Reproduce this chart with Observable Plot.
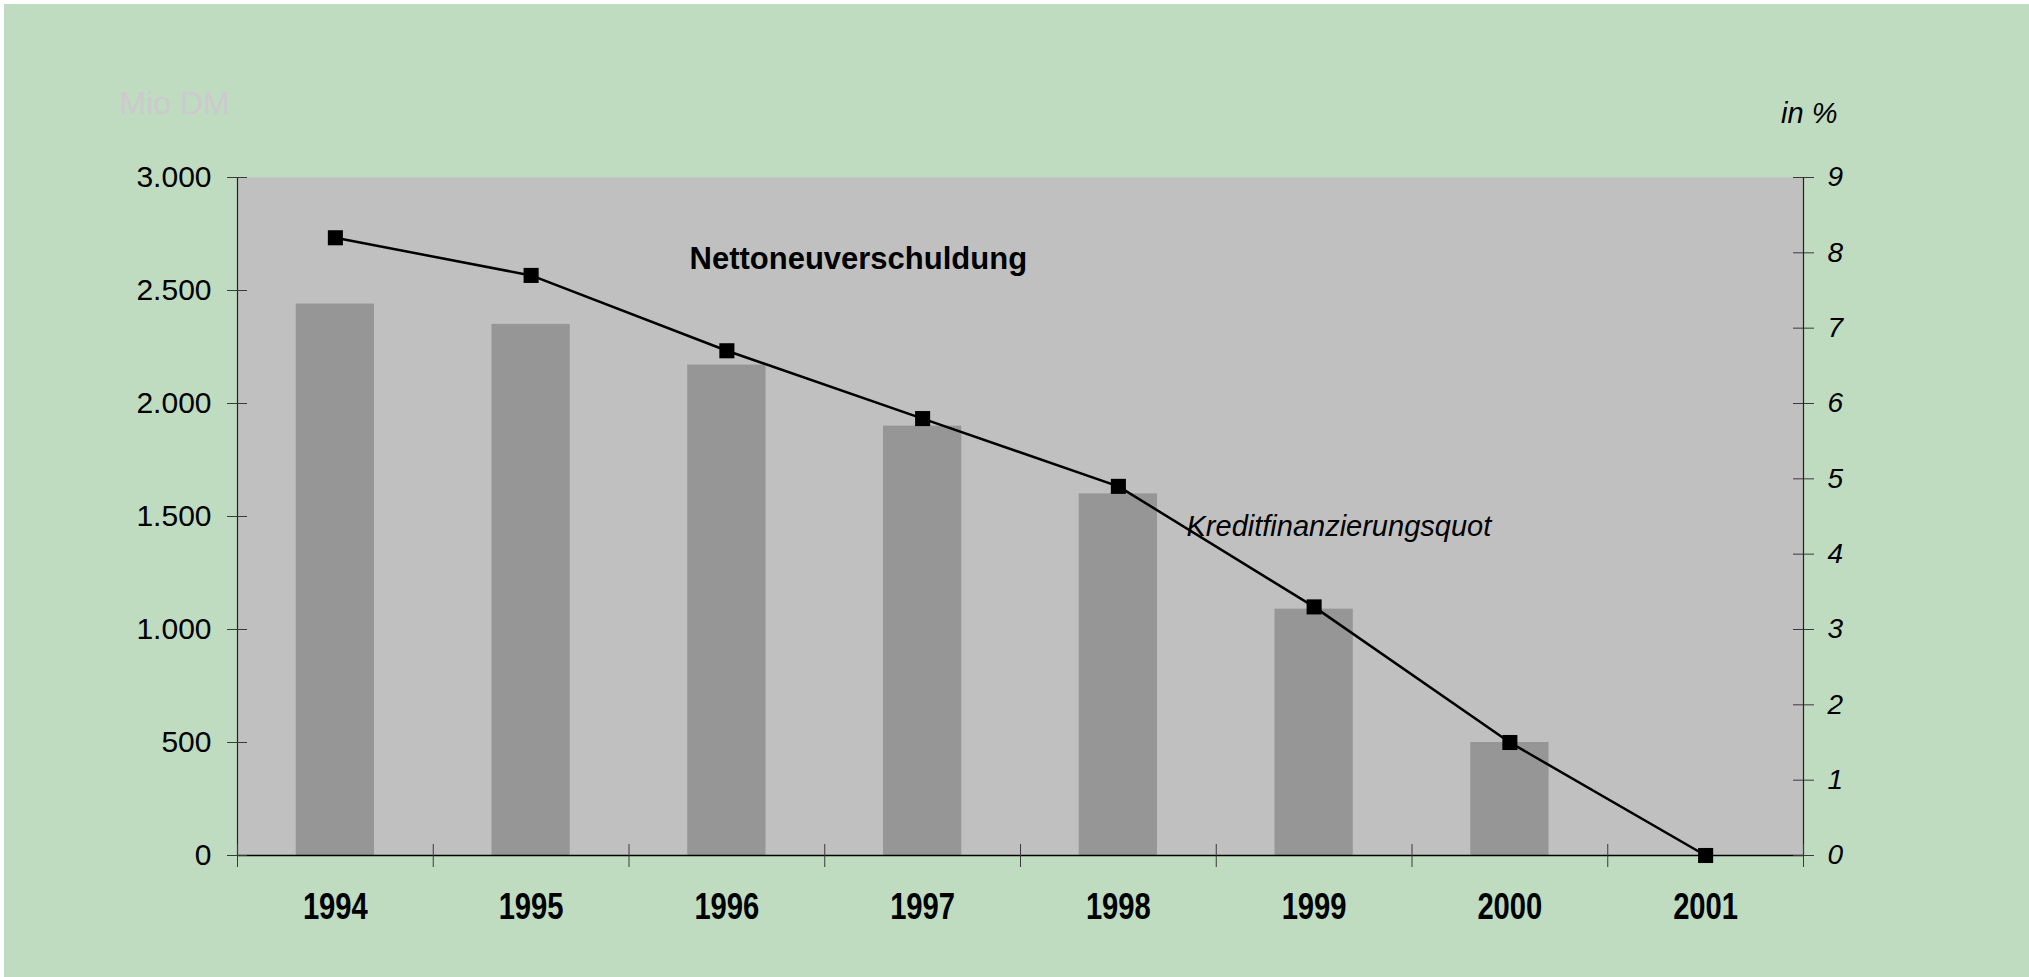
<!DOCTYPE html>
<html>
<head>
<meta charset="utf-8">
<script src="https://cdn.jsdelivr.net/npm/d3@7"></script>
<script src="https://cdn.jsdelivr.net/npm/@observablehq/plot@0.6"></script>
<style>
  html, body { margin: 0; padding: 0; background: #ffffff; }
  #wrap { position: absolute; left: 4px; top: 4px; width: 2025px; height: 973px; background: #bfdcc1; }
  svg { display: block; }
</style>
</head>
<body>
<div id="wrap"></div>
<script>
// ---- data ----
const years = [1994, 1995, 1996, 1997, 1998, 1999, 2000, 2001];
const netDebt = [2440, 2350, 2170, 1900, 1600, 1090, 500, 0];          // Mio DM (left axis)
const creditRatio = [8.2, 7.7, 6.7, 5.8, 4.9, 3.3, 1.5, 0];             // in % (right axis)
const leftTicks = [0, 500, 1000, 1500, 2000, 2500, 3000];
const rightTicks = [0, 1, 2, 3, 4, 5, 6, 7, 8, 9];
const leftUnit = "Mio DM";
const rightUnit = "in %";
const barLabel = "Nettoneuverschuldung";
const lineLabel = "Kreditfinanzierungsquot";

// ---- layout ----
const W = 2025, H = 973;
const mL = 233, mR = 226, mT = 173, mB = 122;
const plotW = W - mL - mR, plotH = H - mT - mB;
const yMax = leftTicks[leftTicks.length - 1];
const k = yMax / rightTicks[rightTicks.length - 1];
const xDomain = [years[0] - 0.5, years[years.length - 1] + 0.5];
const boundaries = years.map(y => y - 0.5).concat([years[years.length - 1] + 0.5]);

const bars = years.map((y, i) => ({year: y, value: netDebt[i]}));
const ratio = years.map((y, i) => ({year: y, value: creditRatio[i] * k}));
const deFmt = d => d3.format(",")(d).replace(/,/g, ".");

const tickStroke = "#3a3a3a";
const lineAnnotDy = 358;

const chart = Plot.plot({
  width: W, height: H,
  marginLeft: mL, marginRight: mR, marginTop: mT, marginBottom: mB,
  style: {background: "transparent", fontFamily: "'Liberation Sans', Arial, sans-serif", color: "black", overflow: "visible"},
  x: {type: "linear", domain: xDomain, axis: null},
  y: {domain: [0, yMax], axis: null},
  marks: [
    Plot.frame({fill: "#c0c0c0", stroke: null}),
    Plot.rectY(bars, {x1: d => d.year - 0.2, x2: d => d.year + 0.2, y: "value", fill: "#969696"}),
    // axis lines
    Plot.ruleX(xDomain, {stroke: "#222", strokeWidth: 1.2}),
    Plot.ruleY([0], {stroke: "black", strokeWidth: 1.6}),
    // x ticks at category boundaries (crossing)
    Plot.axisX(boundaries, {tickSize: 12, tickFormat: () => "", stroke: tickStroke, label: null}),
    Plot.gridX(boundaries, {insetTop: plotH - 11, stroke: tickStroke, strokeOpacity: 1}),
    // year labels
    Plot.axisX(years, {tickSize: 0, tickPadding: 38, tickFormat: d => String(d), label: null,
      fontSize: 36, fontWeight: "bold", fontFamily: "'Liberation Sans', Arial, sans-serif", fill: "black", ariaLabel: "year-labels"}),
    // left axis
    Plot.axisY(leftTicks, {anchor: "left", tickSize: 10, tickPadding: 16, tickFormat: deFmt, label: null,
      fontSize: 30, stroke: tickStroke, fill: "black"}),
    Plot.gridY(leftTicks, {insetRight: plotW - 10, stroke: tickStroke, strokeOpacity: 1}),
    // right axis
    Plot.axisY(rightTicks.map(v => v * k), {anchor: "right", tickSize: 10, tickPadding: 14, label: null,
      tickFormat: d => String(Math.round(d / k)), fontSize: 28, fontStyle: "italic", stroke: tickStroke, fill: "black"}),
    Plot.gridY(rightTicks.map(v => v * k), {insetLeft: plotW - 10, stroke: tickStroke, strokeOpacity: 1}),
    // line + markers
    Plot.line(ratio, {x: "year", y: "value", stroke: "black", strokeWidth: 2.5}),
    Plot.dot(ratio, {x: "year", y: "value", symbol: "square", r: 8.5, fill: "black", stroke: null}),
    // unit labels
    Plot.text([leftUnit], {text: d => d, frameAnchor: "top-left", dx: -118, dy: -64, textAnchor: "start", lineAnchor: "bottom",
      fontSize: 32, fill: "#cdc9cd"}),
    Plot.text([rightUnit], {text: d => d, frameAnchor: "top-right", dx: 34, dy: -55, textAnchor: "end", lineAnchor: "bottom",
      fontSize: 29, fontStyle: "italic", fill: "black"}),
    // series labels
    Plot.text([barLabel], {text: d => d, frameAnchor: "top-left", dx: 452, dy: 91, textAnchor: "start", lineAnchor: "bottom",
      fontSize: 31, fontWeight: "bold", fill: "black"}),
    Plot.text([lineLabel], {text: d => d, frameAnchor: "top-left", dx: 949, dy: lineAnnotDy, textAnchor: "start", lineAnchor: "bottom",
      fontSize: 29, fontStyle: "italic", fill: "black", ariaLabel: "quote-label"})
  ]
});

const svg = d3.select(chart);
const ns = "http://www.w3.org/2000/svg";

// the reference cuts the line label at its baseline: wrap it in a clipped group
svg.append("defs").append("clipPath").attr("id", "quote-cut")
  .append("rect").attr("x", 0).attr("y", 0).attr("width", W).attr("height", mT + lineAnnotDy + 1);
svg.selectAll('g[aria-label="quote-label"]').each(function() {
  const wrapper = document.createElementNS(ns, "g");
  this.parentNode.insertBefore(wrapper, this);
  wrapper.appendChild(this);
  wrapper.setAttribute("clip-path", "url(#quote-cut)");
});

// condensed bold year labels
svg.selectAll("text").each(function() {
  const t = this.textContent.trim();
  if (years.map(String).includes(t)) {
    this.setAttribute("textLength", 65);
    this.setAttribute("lengthAdjust", "spacingAndGlyphs");
  }
});

document.getElementById("wrap").appendChild(chart);
</script>
</body>
</html>
